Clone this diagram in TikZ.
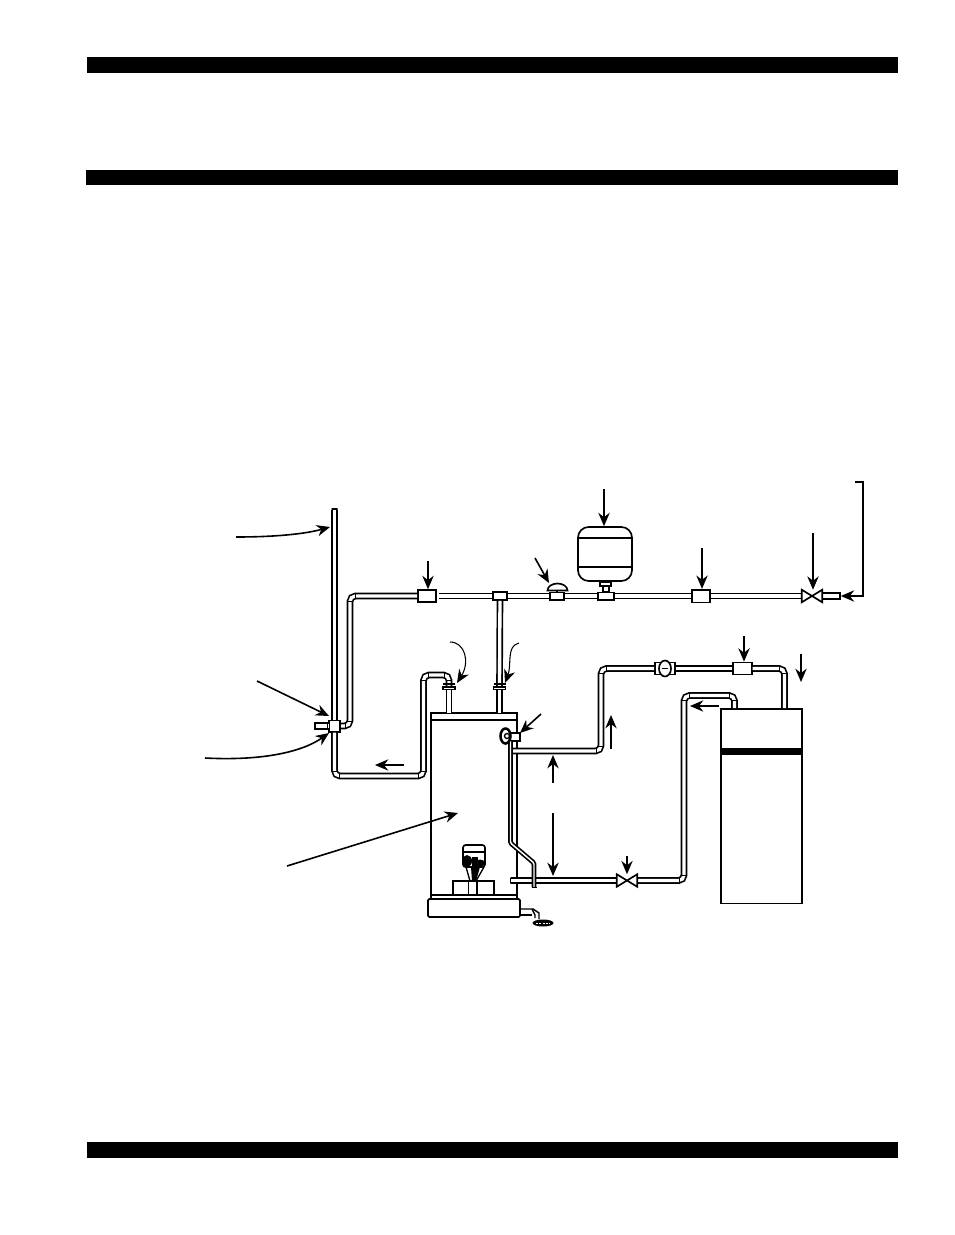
\documentclass[tikz,border=0pt]{standalone}
\usetikzlibrary{arrows.meta}
\usepackage{xcolor}
\newcommand{\pipeelbow}[4]{%
  \draw[seam] (#1+5*#3,#2-3) -- (#1+5*#3,#2+3);
  \draw[seam] (#1-3,#2+5*#4) -- (#1+3,#2+5*#4);}

\begin{document}
\begin{tikzpicture}[
    x=0.75pt,
    y=-0.75pt,
    >={Stealth[length=10pt,width=8.5pt]},
    bar/.style={fill=black, draw=none},
    pipe/.style={draw=black, line width=1.25pt, double=white, double distance=2.5pt, rounded corners=4pt},
    thinpipe/.style={draw=black, line width=1.25pt, double=white, double distance=1.1pt, rounded corners=1pt},
    seam/.style={draw=black, line width=0.6pt},
    fitbox/.style={draw=black, fill=white, line width=1.25pt, rectangle, inner sep=0pt},
    valvebox/.style={rectangle, inner sep=0pt, minimum width=15pt, minimum height=9pt},
    body/.style={draw=black, fill=white, line width=1.25pt, rectangle, inner sep=0pt},
    leader/.style={->, line width=1.2pt}]
    \useasboundingbox (0,0) rectangle (954,1235);

    % BARS
    \fill[bar] (87,57) rectangle (898,73);
    \fill[bar] (86,170) rectangle (898,185);
    \fill[bar] (87,1142) rectangle (898,1158);

    % NODES
    % water heater
    \node[body, minimum width=64.5pt, minimum height=134pt] (heater) at (474,809) {};
    \node[body, minimum width=64.5pt, minimum height=5.5pt] (heatercap) at (474,716.5) {};
    \node[body, minimum width=69pt, minimum height=13.5pt, rounded corners=1pt] (heaterbase) at (474,908) {};
    \node[body, minimum width=30.75pt, minimum height=10.5pt] (burner) at (473.5,888) {};
    % boiler
    \node[body, minimum width=60.75pt, minimum height=146pt] (boiler) at (761.5,806) {};
    % expansion tank
    \node[body, minimum width=40.5pt, minimum height=40.5pt, rounded corners=8pt] (tank) at (605,554) {};
    % fittings on the top line
    \node[fitbox, minimum width=13.5pt, minimum height=9pt] (U1) at (427,596) {};
    \node[fitbox, minimum width=10.5pt, minimum height=6pt] (T1) at (500,596) {};
    \node[fitbox, minimum width=10.5pt, minimum height=5.5pt] (B1) at (557,596) {};
    \node[fitbox, minimum width=12pt, minimum height=5.5pt] (T2) at (606,596) {};
    \node[fitbox, minimum width=13.5pt, minimum height=9.5pt] (U2) at (701,596) {};
    \node[valvebox] (V1) at (812,596) {};
    \node[fitbox, minimum width=13.5pt, minimum height=4.5pt] (S1) at (831,596) {};
    % fittings on the vent
    \node[fitbox, minimum width=8.5pt, minimum height=8.5pt] (T3) at (334.5,726) {};
    \node[fitbox, minimum width=9.5pt, minimum height=4.5pt] (S2) at (321.5,726) {};
    \node[fitbox, minimum width=4.5pt, minimum height=0pt] (S4) at (334.5,509) {};
    % fittings on the boiler lines
    \node[fitbox, minimum width=15pt, minimum height=9pt] (P1) at (665,668.5) {};
    \node[fitbox, minimum width=14pt, minimum height=9pt] (U3) at (742.5,668.5) {};
    \node[valvebox] (V2) at (627,880.5) {};
    \node[fitbox, minimum width=0pt, minimum height=4.5pt] (S3) at (510.5,880.5) {};
    % relief valve
    \node[fitbox, minimum width=7.5pt, minimum height=6pt] (R1) at (515,737) {};
    % pipe unions on the heater nipples
    \node[fitbox, minimum width=9pt, minimum height=2pt] (N1) at (449,688) {};
    \node[fitbox, minimum width=9pt, minimum height=2pt] (N2) at (499.5,688) {};
    % bends
    \coordinate (c1) at (350,726);
    \coordinate (c2) at (350,596);
    \coordinate (c3) at (334.5,776);
    \coordinate (c4) at (423.5,776);
    \coordinate (c5) at (423.5,675);
    \coordinate (c6) at (449,675);
    \coordinate (c7) at (449,712.5);
    \coordinate (c8) at (499.5,712.5);
    \coordinate (c9) at (513,751);
    \coordinate (c10) at (601,751);
    \coordinate (c11) at (601,668.5);
    \coordinate (c12) at (784.5,668.5);
    \coordinate (c13) at (784.5,708);
    \coordinate (c14) at (734.5,708);
    \coordinate (c15) at (734.5,695.5);
    \coordinate (c16) at (684,695.5);
    \coordinate (c17) at (684,880.5);
    % relief pipe bends
    \coordinate (r1) at (510.5,741);
    \coordinate (r2) at (510.5,843);
    \coordinate (r3) at (534,863);
    \coordinate (r4) at (534,887);

    % PIPES
    \draw[pipe] (T3) -- (S4);
    \draw[pipe] (T3) -- (S2);
    \draw[pipe] (T3) -- (c1) -- (c2) -- (U1);
    \draw[pipe] (T3) -- (c3) -- (c4) -- (c5) -- (c6) -- (N1);
    \draw[pipe] (N1) -- (c7);
    \draw[pipe, shorten <=1.5pt] (U1) -- (T1);
    \draw[pipe] (T1) -- (N2);
    \draw[pipe] (N2) -- (c8);
    \draw[pipe] (T1) -- (B1);
    \draw[pipe] (B1) -- (T2);
    \draw[pipe] (T2) -- (U2);
    \draw[pipe] (U2) -- (V1);
    \draw[pipe] (c9) -- (c10) -- (c11) -- (P1);
    \draw[pipe] (P1) -- (U3);
    \draw[pipe] (U3) -- (c12) -- (c13);
    \draw[pipe] (c14) -- (c15) -- (c16) -- (c17) -- (V2);
    \draw[pipe] (V2) -- (S3);
    \draw[thinpipe] (r1) -- (r2) -- (r3) -- (r4);
    \draw[seam] (531.5,887.5) -- (536.5,887.5);

    % elbow seams
    \pipeelbow{350}{596}{1}{1}
    \pipeelbow{350}{726}{-1}{-1}
    \pipeelbow{334.5}{776}{1}{-1}
    \pipeelbow{423.5}{776}{-1}{-1}
    \pipeelbow{423.5}{675}{1}{1}
    \pipeelbow{449}{675}{-1}{1}
    \pipeelbow{601}{751}{-1}{-1}
    \pipeelbow{601}{668.5}{1}{1}
    \pipeelbow{784.5}{668.5}{-1}{1}
    \pipeelbow{734.5}{695.5}{-1}{1}
    \pipeelbow{684}{695.5}{1}{1}
    \pipeelbow{684}{880.5}{-1}{-1}

    % DETAILS
    % tank bands and stem
    \draw[line width=1.25pt] (tank.west |- 0,538) -- (tank.east |- 0,538);
    \draw[line width=1.25pt] (tank.west |- 0,567) -- (tank.east |- 0,567);
    \draw[fitbox] (600,582) rectangle (611,586);
    \draw[fitbox] (603,586) rectangle (609,592);
    % valve handle
    \draw[fitbox] (547.5,590.5) arc[start angle=180, end angle=360, x radius=10, y radius=7] -- cycle;
    \draw[line width=1.25pt] (557,590.5) -- (557,592);
    % valves
    \draw[line width=1.25pt, fill=white] (V1.north west) -- (V1.south east) -- (V1.north east) -- (V1.south west) -- cycle;
    \draw[line width=1.25pt, fill=white] (V2.north west) -- (V2.south east) -- (V2.north east) -- (V2.south west) -- cycle;
    % circulator
    \draw[fitbox] (P1.center) ellipse[x radius=6, y radius=8];
    \draw[line width=1pt] (662,668.5) -- (668,668.5);
    % boiler band
    \fill[bar] (721,748) rectangle (802,755);
    % nipple flanges
    \draw[line width=1.4pt] (443,684) -- (455,684);
    \draw[line width=1.4pt] (493.5,684) -- (505.5,684);
    % relief valve ring
    \draw[line width=1.9pt, fill=white] (505.5,736) ellipse[x radius=5, y radius=7.5];
    \draw[line width=1pt, fill=white] (507,736) circle[radius=2.5];
    % burner divisions
    \draw[line width=1pt] (468.5,881) -- (468.5,895);
    \draw[line width=1pt] (477,881) -- (477,895);
    \draw[line width=1.1pt] (431,895) -- (517,895);
    % gas control
    \draw[line width=1.25pt, fill=white, rounded corners=2pt] (463,845) rectangle (485,867);
    \draw[line width=1pt] (463,852) -- (485,852);
    \fill (467,861) ellipse[x radius=5, y radius=6];
    \fill (480,863) ellipse[x radius=5, y radius=3.5];
    \fill (472,857) rectangle (478,866);
    \draw[line width=1pt] (466,867) -- (470,881);
    \draw[line width=1pt] (484,867) -- (476,881);
    \fill (471,867) -- (480,867) -- (476,881) -- (472,881) -- cycle;
    % drain
    \draw[line width=1.1pt] (520.5,909) -- (533,909) -- (539,913) -- (539,919);
    \draw[line width=1.1pt] (520.5,915) -- (532,915);
    \draw[line width=1.1pt] (532,909) -- (535,915) -- (535,918);
    \fill (543,923) ellipse[x radius=10.5, y radius=3.5];
    \draw[white, line width=0.7pt, dash pattern=on 1.5pt off 1pt] (536,923) -- (550,923);

    % ARROWS
    \coordinate (a1) at (236,537);
    \coordinate (a2) at (330,527);
    \draw[leader] (a1) .. controls (275,537) and (305,534) .. (a2);
    \coordinate (a3) at (428,561);
    \draw[leader] (a3) -- (U1.north -| a3);
    \coordinate (a4) at (535,558);
    \coordinate (a5) at (549,583);
    \draw[leader] (a4) -- (a5);
    \coordinate (a6) at (604,489);
    \draw[leader] (a6) -- (tank.north -| a6);
    \coordinate (a7) at (702,548);
    \draw[leader] (a7) -- (U2.north -| a7);
    \coordinate (a8) at (813,533);
    \draw[leader] (a8) -- (V1.north -| a8);
    \coordinate (a9) at (855,482);
    \coordinate (a10) at (863,482);
    \coordinate (a11) at (863,596);
    \draw[leader] (a9) -- (a10) -- (a11) -- (S1.east);
    \coordinate (a12) at (744,636);
    \draw[leader] (a12) -- (U3.north -| a12);
    \coordinate (a13) at (801,654);
    \coordinate (a14) at (801,682);
    \draw[leader] (a13) -- (a14);
    \coordinate (a15) at (611,749);
    \coordinate (a16) at (611,715);
    \draw[leader] (a15) -- (a16);
    \coordinate (a17) at (719,706);
    \coordinate (a18) at (690,706);
    \draw[->, line width=0.8pt] (a17) -- (a18);
    \coordinate (a19) at (404,765);
    \coordinate (a20) at (375,765);
    \draw[leader] (a19) -- (a20);
    \coordinate (a21) at (450,642);
    \coordinate (a22) at (457,683);
    \draw[leader, line width=0.8pt] (a21) .. controls (465,642) and (470,662) .. (a22);
    \coordinate (a23) at (519,643);
    \coordinate (a24) at (505,683);
    \draw[leader, line width=0.8pt] (a23) .. controls (506,646) and (512,664) .. (a24);
    \coordinate (a25) at (257,681);
    \coordinate (a26) at (329,716);
    \draw[leader] (a25) -- (a26);
    \coordinate (a27) at (205,758);
    \coordinate (a28) at (329,733);
    \draw[leader] (a27) .. controls (262,761) and (302,752) .. (a28);
    \coordinate (a29) at (541,714);
    \coordinate (a30) at (520,733);
    \draw[leader] (a29) -- (a30);
    \coordinate (a31) at (553,783);
    \coordinate (a32) at (553,755);
    \draw[leader] (a31) -- (a32);
    \coordinate (a33) at (553,813);
    \coordinate (a34) at (553,876);
    \draw[leader] (a33) -- (a34);
    \coordinate (a35) at (627,856);
    \draw[leader] (a35) -- (V2.north -| a35);
    \coordinate (a36) at (287,866);
    \coordinate (a37) at (458,813);
    \draw[leader] (a36) -- (a37);
\end{tikzpicture}
\end{document}
